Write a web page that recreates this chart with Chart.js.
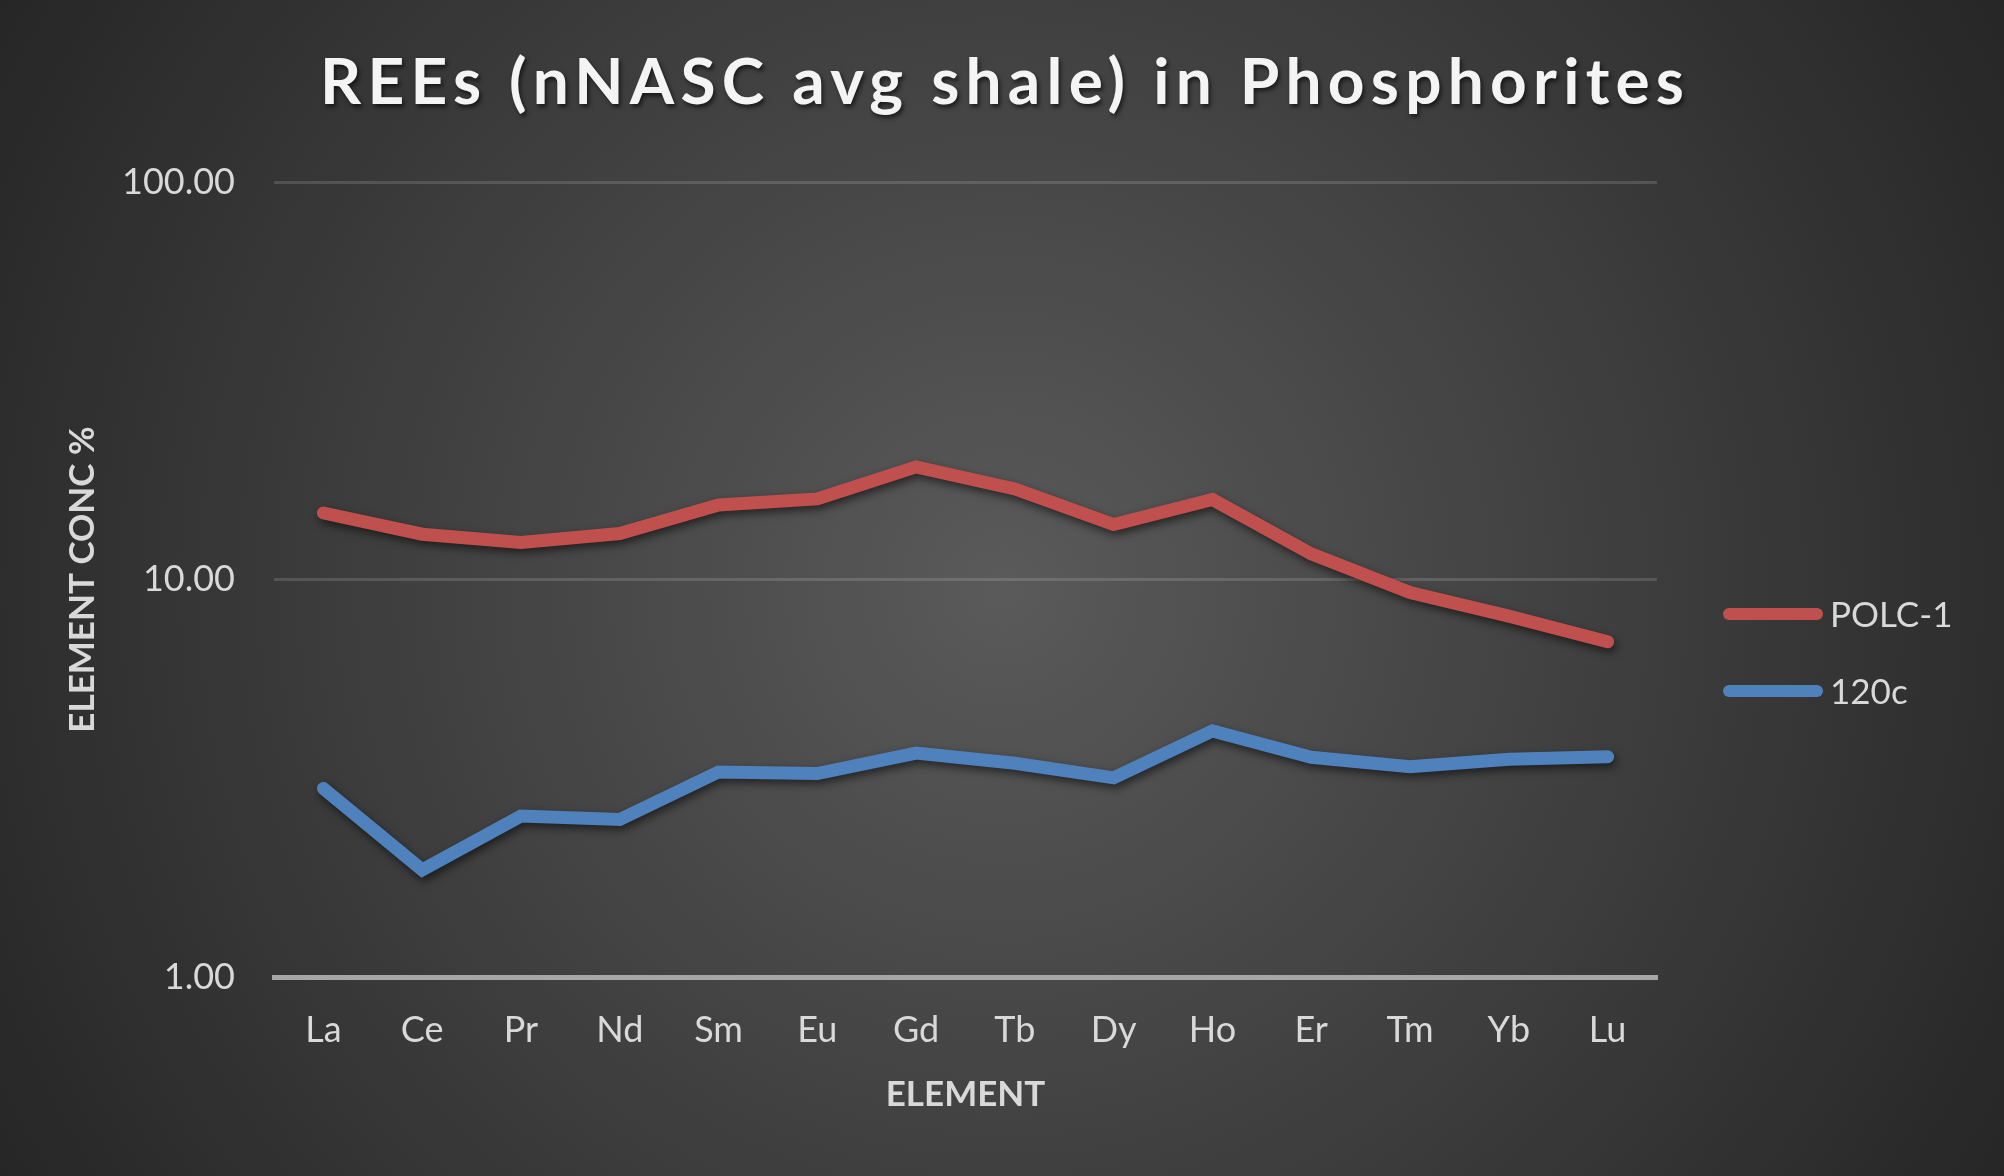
<!DOCTYPE html>
<html>
<head>
<meta charset="utf-8">
<title>REEs (nNASC avg shale) in Phosphorites</title>
<script src="https://cdn.jsdelivr.net/npm/chart.js@4.4.1/dist/chart.umd.min.js"></script>
<style>
  html, body { margin: 0; padding: 0; background: #262626; overflow: hidden; }
  #chart-container { width: 2004px; height: 1176px; }
</style>
</head>
<body>
<div id="chart-container"><canvas id="ree-chart" width="2004" height="1176"></canvas></div>
<script>
// Chart data
const chartTitle = 'REEs (nNASC avg shale) in Phosphorites';
const elements = ['La', 'Ce', 'Pr', 'Nd', 'Sm', 'Eu', 'Gd', 'Tb', 'Dy', 'Ho', 'Er', 'Tm', 'Yb', 'Lu'];
const polc1Values = [14.7, 13.0, 12.4, 13.05, 15.4, 15.95, 19.2, 16.9, 13.75, 15.9, 11.6, 9.27, 8.09, 6.97];
const c120Values = [2.98, 1.86, 2.54, 2.49, 3.28, 3.25, 3.66, 3.45, 3.17, 4.16, 3.57, 3.38, 3.53, 3.58];
const yTicks = [1, 10, 100];

const textColor = '#d9d9d9';
const fontFamily = 'Lato, "Open Sans", sans-serif';

// dark radial background like the Excel style
const backgroundPlugin = {
  id: 'background',
  beforeDraw(chart) {
    const ctx = chart.ctx;
    const w = chart.width, h = chart.height;
    const grad = ctx.createRadialGradient(w / 2, h / 2, 0, w / 2, h / 2, Math.sqrt(w * w + h * h) / 2);
    grad.addColorStop(0, '#5a5a5a');
    grad.addColorStop(1, '#262626');
    ctx.save();
    ctx.fillStyle = grad;
    ctx.fillRect(0, 0, w, h);
    ctx.restore();
  }
};

// soft drop shadow under the series lines
const lineShadowPlugin = {
  id: 'lineShadow',
  beforeDatasetDraw(chart) {
    const ctx = chart.ctx;
    ctx.save();
    ctx.shadowColor = 'rgba(0, 0, 0, 0.55)';
    ctx.shadowBlur = 8;
    ctx.shadowOffsetX = 2;
    ctx.shadowOffsetY = 4;
  },
  afterDatasetDraw(chart) {
    chart.ctx.restore();
  }
};

// spaced-out title with a small shadow
const titlePlugin = {
  id: 'spacedTitle',
  afterDraw(chart) {
    const ctx = chart.ctx;
    const targetWidth = 1364;
    ctx.save();
    ctx.font = 'bold 64px ' + fontFamily;
    ctx.letterSpacing = '0px';
    const plain = ctx.measureText(chartTitle).width;
    const spacing = (targetWidth - plain) / (chartTitle.length - 1);
    ctx.letterSpacing = spacing + 'px';
    ctx.textAlign = 'left';
    ctx.textBaseline = 'alphabetic';
    ctx.fillStyle = '#f4f4f4';
    ctx.shadowColor = 'rgba(0, 0, 0, 0.6)';
    ctx.shadowBlur = 4;
    ctx.shadowOffsetX = 2;
    ctx.shadowOffsetY = 3;
    ctx.fillText(chartTitle, chart.width / 2 - targetWidth / 2, 104);
    ctx.restore();
  }
};

// legend on the right: a thick line and the series name
const legendPlugin = {
  id: 'sideLegend',
  afterDraw(chart) {
    const ctx = chart.ctx;
    const rows = [{ line: 614, base: 627 }, { line: 691, base: 704 }];
    ctx.save();
    chart.data.datasets.forEach((ds, i) => {
      ctx.beginPath();
      ctx.lineCap = 'round';
      ctx.lineWidth = 12;
      ctx.strokeStyle = ds.borderColor;
      ctx.moveTo(1729, rows[i].line);
      ctx.lineTo(1817, rows[i].line);
      ctx.stroke();
      ctx.font = '35px ' + fontFamily;
      ctx.fillStyle = textColor;
      ctx.textAlign = 'left';
      ctx.textBaseline = 'alphabetic';
      ctx.fillText(ds.label, 1830, rows[i].base);
    });
    ctx.restore();
  }
};

const canvas = document.getElementById('ree-chart');
const reeChart = new Chart(canvas, {
  type: 'line',
  data: {
    labels: elements,
    datasets: [
      {
        label: 'POLC-1',
        data: polc1Values,
        borderColor: '#c0504d',
        backgroundColor: '#c0504d',
        borderWidth: 13,
        borderCapStyle: 'round',
        borderJoinStyle: 'miter',
        pointRadius: 0,
        tension: 0
      },
      {
        label: '120c',
        data: c120Values,
        borderColor: '#4f81bd',
        backgroundColor: '#4f81bd',
        borderWidth: 13,
        borderCapStyle: 'round',
        borderJoinStyle: 'miter',
        pointRadius: 0,
        tension: 0
      }
    ]
  },
  options: {
    responsive: false,
    animation: false,
    devicePixelRatio: 1,
    layout: {
      padding: { top: 182, left: 40, right: 347, bottom: 40 }
    },
    plugins: {
      legend: { display: false },
      title: { display: false },
      tooltip: { enabled: false }
    },
    scales: {
      x: {
        type: 'category',
        offset: true,
        afterFit(scale) { scale.height = 159; },
        grid: { display: false, drawTicks: false },
        border: { display: true, color: '#a6a6a6', width: 5 },
        ticks: {
          color: textColor,
          padding: 32,
          font: { family: fontFamily, size: 36 }
        },
        title: {
          display: true,
          text: 'ELEMENT',
          color: textColor,
          padding: { top: 0, bottom: 20 },
          font: { family: fontFamily, size: 35, weight: 'bold' }
        }
      },
      y: {
        type: 'logarithmic',
        min: 1,
        max: 100,
        afterFit(scale) { scale.width = 234; },
        afterBuildTicks(scale) {
          scale.ticks = yTicks.map(v => ({ value: v }));
        },
        grid: {
          drawTicks: false,
          lineWidth: 3,
          color: 'rgba(255, 255, 255, 0.14)'
        },
        border: { display: false },
        ticks: {
          color: textColor,
          padding: 39,
          font: { family: fontFamily, size: 36 },
          callback: value => Number(value).toFixed(2)
        },
        title: {
          display: true,
          text: 'ELEMENT CONC %',
          color: textColor,
          padding: { top: 22, bottom: 0 },
          font: { family: fontFamily, size: 35, weight: 'bold' }
        }
      }
    }
  },
  plugins: [backgroundPlugin, lineShadowPlugin, titlePlugin, legendPlugin]
});
</script>
</body>
</html>
